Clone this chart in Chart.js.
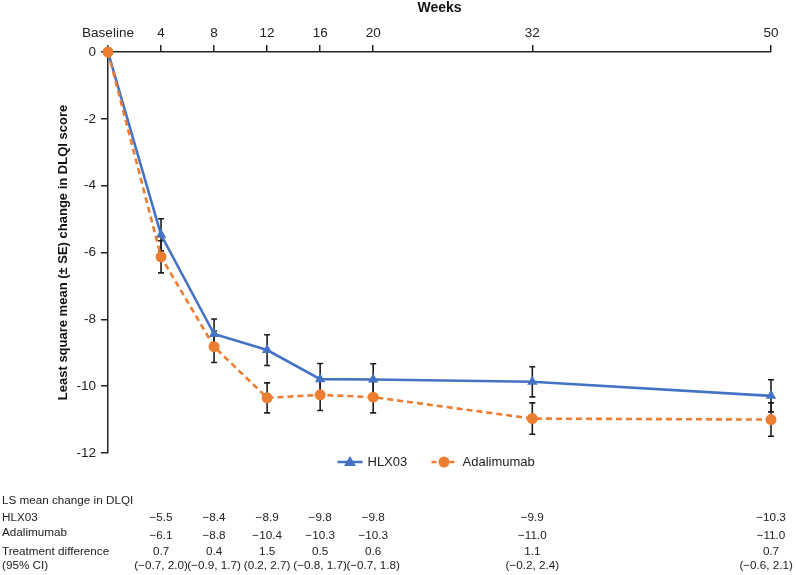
<!DOCTYPE html>
<html>
<head>
<meta charset="utf-8">
<script src="https://cdn.jsdelivr.net/npm/chart.js@4"></script>
<style>
  html, body { margin: 0; padding: 0; background: #fff; }
  #wrap { width: 796px; height: 575px; position: relative; }
</style>
</head>
<body>
<div id="wrap"><canvas id="c"></canvas></div>
<script>
// ---- data ----
const weeks = [0, 4, 8, 12, 16, 20, 32, 50];
const weekLabels = ['Baseline', '4', '8', '12', '16', '20', '32', '50'];
const hlx03 = [0, -5.47, -8.44, -8.92, -9.79, -9.8, -9.87, -10.29];
const hlx03SE = [0, 0.48, 0.45, 0.46, 0.47, 0.47, 0.45, 0.48];
const adalimumab = [0, -6.13, -8.82, -10.35, -10.26, -10.33, -10.97, -11.0];
const adalimumabSE = [0, 0.48, 0.47, 0.45, 0.47, 0.47, 0.47, 0.5];
const yTicks = [0, -2, -4, -6, -8, -10, -12];

// table text (weeks 4..50)
const tableWeeks = [4, 8, 12, 16, 20, 32, 50];
const tblHLX03 = ['\u22125.5', '\u22128.4', '\u22128.9', '\u22129.8', '\u22129.8', '\u22129.9', '\u221210.3'];
const tblAdalimumab = ['\u22126.1', '\u22128.8', '\u221210.4', '\u221210.3', '\u221210.3', '\u221211.0', '\u221211.0'];
const tblDiff = ['0.7', '0.4', '1.5', '0.5', '0.6', '1.1', '0.7'];
const tblCI = ['(\u22120.7, 2.0)', '(\u22120.9, 1.7)', '(0.2, 2.7)', '(\u22120.8, 1.7)', '(\u22120.7, 1.8)', '(\u22120.2, 2.4)', '(\u22120.6, 2.1)'];

const BLUE = '#4472c4';
const ORANGE = '#ed7d31';
const INK = '#222222';
const FONT = '"Liberation Sans", Arial, Helvetica, sans-serif';
Chart.defaults.font.family = FONT;
Chart.defaults.color = INK;

const errorBars = {
  id: 'errorBars',
  beforeDatasetsDraw(chart) {
    const ctx = chart.ctx;
    const xs = chart.scales.x, ys = chart.scales.y;
    const sets = [[hlx03, hlx03SE], [adalimumab, adalimumabSE]];
    ctx.save();
    ctx.strokeStyle = '#1e1e1e';
    ctx.lineWidth = 1.6;
    sets.forEach(([vals, se]) => {
      vals.forEach((v, i) => {
        if (!se[i]) return;
        const x = xs.getPixelForValue(weeks[i]);
        const y1 = ys.getPixelForValue(v + se[i]);
        const y2 = ys.getPixelForValue(v - se[i]);
        ctx.beginPath();
        ctx.moveTo(x, y1); ctx.lineTo(x, y2);
        ctx.moveTo(x - 3, y1); ctx.lineTo(x + 3, y1);
        ctx.moveTo(x - 3, y2); ctx.lineTo(x + 3, y2);
        ctx.stroke();
      });
    });
    ctx.restore();
  }
};

const legendAndTable = {
  id: 'legendAndTable',
  afterDraw(chart) {
    const ctx = chart.ctx;
    const xs = chart.scales.x;
    const ca = chart.chartArea;
    ctx.save();
    // legend
    const cx = (ca.left + ca.right) / 2;
    const ly = ca.bottom + 9;
    ctx.lineWidth = 2.5;
    ctx.strokeStyle = BLUE;
    ctx.beginPath(); ctx.moveTo(cx - 102, ly); ctx.lineTo(cx - 77, ly); ctx.stroke();
    ctx.fillStyle = BLUE;
    ctx.beginPath();
    const tx = cx - 89.5;
    ctx.moveTo(tx, ly - 6); ctx.lineTo(tx + 6, ly + 4); ctx.lineTo(tx - 6, ly + 4); ctx.closePath(); ctx.fill();
    ctx.font = '13px ' + FONT;
    ctx.fillStyle = INK;
    ctx.textBaseline = 'middle';
    ctx.textAlign = 'left';
    ctx.fillText('HLX03', cx - 72, ly);
    ctx.strokeStyle = ORANGE;
    ctx.setLineDash([5, 4]);
    ctx.beginPath(); ctx.moveTo(cx - 8, ly); ctx.lineTo(cx + 17, ly); ctx.stroke();
    ctx.setLineDash([]);
    ctx.fillStyle = ORANGE;
    ctx.beginPath(); ctx.arc(cx + 4.5, ly, 5.5, 0, Math.PI * 2); ctx.fill();
    ctx.fillStyle = INK;
    ctx.fillText('Adalimumab', cx + 23, ly);

    // table
    ctx.font = '11.7px ' + FONT;
    ctx.fillStyle = INK;
    const rows = [
      ['LS mean change in DLQI', null, 501],
      ['HLX03', tblHLX03, 518],
      ['Adalimumab', tblAdalimumab, 534],
      ['Treatment difference', tblDiff, 552],
      ['(95% CI)', tblCI, 566]
    ];
    rows.forEach(([label, vals, y], r) => {
      ctx.textAlign = 'left';
      ctx.fillText(label, 2, r === 2 ? y - 1 : y);
      if (!vals) return;
      ctx.textAlign = 'center';
      vals.forEach((t, i) => {
        let x = xs.getPixelForValue(tableWeeks[i]);
        const w = ctx.measureText(t).width;
        if (x + w / 2 > chart.width - 3) x = chart.width - 3 - w / 2;
        ctx.fillText(t, x, r === 2 ? y + 2 : y);
      });
    });
    ctx.restore();
  }
};

new Chart(document.getElementById('c'), {
  type: 'line',
  data: {
    datasets: [
      {
        label: 'Adalimumab',
        data: weeks.map((w, i) => ({ x: w, y: adalimumab[i] })),
        borderColor: ORANGE,
        backgroundColor: ORANGE,
        borderWidth: 2.6,
        borderDash: [6, 4],
        pointStyle: 'circle',
        pointRadius: 5.5,
        pointHoverRadius: 5.5,
        pointBorderWidth: 0,
        tension: 0,
        clip: false,
        order: 0
      },
      {
        label: 'HLX03',
        data: weeks.map((w, i) => ({ x: w, y: hlx03[i] })),
        borderColor: BLUE,
        backgroundColor: BLUE,
        borderWidth: 2.6,
        pointStyle: 'triangle',
        pointRadius: 6,
        pointHoverRadius: 6,
        pointBorderWidth: 0,
        tension: 0,
        clip: false,
        order: 1
      }
    ]
  },
  options: {
    responsive: true,
    maintainAspectRatio: false,
    animation: false,
    events: [],
    layout: { padding: { left: 48, right: 25, top: 0, bottom: 122 } },
    plugins: { legend: { display: false }, tooltip: { enabled: false } },
    scales: {
      x: {
        type: 'linear',
        position: 'top',
        min: 0,
        max: 50,
        afterBuildTicks: s => { s.ticks = weeks.map(v => ({ value: v })); },
        afterFit: s => { s.height = 52; },
        ticks: {
          autoSkip: false,
          maxRotation: 0,
          padding: 4,
          color: INK,
          font: { size: 13.5 },
          callback: v => weekLabels[weeks.indexOf(v)]
        },
        grid: { drawOnChartArea: false, drawTicks: true, tickLength: 7, color: INK, lineWidth: 1.5 },
        border: { display: true, color: INK, width: 1.5 },
        title: { display: true, text: 'Weeks', color: '#111', font: { size: 14, weight: 'bold' }, padding: { top: 0, bottom: 6 } }
      },
      y: {
        type: 'linear',
        min: -12,
        max: 0,
        afterBuildTicks: s => { s.ticks = yTicks.map(v => ({ value: v })); },
        afterFit: s => { s.width = 60; },
        ticks: { padding: 5, color: INK, font: { size: 13.5 } },
        grid: { drawOnChartArea: false, drawTicks: true, tickLength: 7, color: INK, lineWidth: 1.5 },
        border: { display: true, color: INK, width: 1.5 },
        title: { display: true, text: 'Least square mean (\u00b1 SE) change in DLQI score', color: '#111', font: { size: 13, weight: 'bold' }, padding: { top: 8, bottom: 0 } }
      }
    }
  },
  plugins: [errorBars, legendAndTable]
});
</script>
</body>
</html>
